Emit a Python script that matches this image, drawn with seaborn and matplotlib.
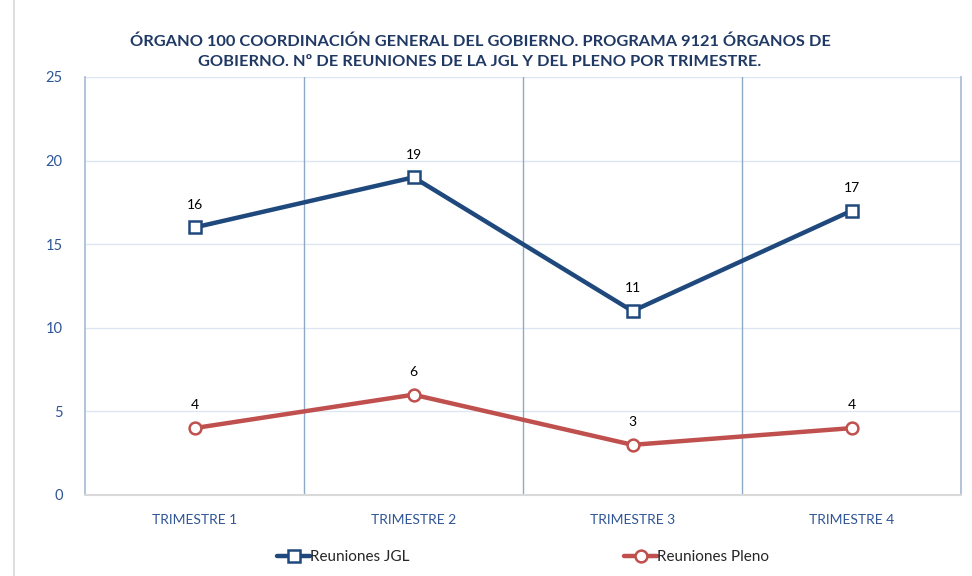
import numpy as np
import pandas as pd
import matplotlib
matplotlib.use("Agg")
import matplotlib.pyplot as plt
import seaborn as sns
from matplotlib.lines import Line2D

# Data
trimestres = ["TRIMESTRE 1", "TRIMESTRE 2", "TRIMESTRE 3", "TRIMESTRE 4"]
reuniones_jgl = [16, 19, 11, 17]
reuniones_pleno = [4, 6, 3, 4]

df_jgl = pd.DataFrame({"Trimestre": trimestres, "Valor": reuniones_jgl})
df_pleno = pd.DataFrame({"Trimestre": trimestres, "Valor": reuniones_pleno})

sns.set_theme(style="white")
plt.rcParams["font.family"] = ["Lato", "DejaVu Sans"]

blue = "#1F497D"
red = "#C0504D"
axis_blue = "#2F5597"

fig = plt.figure(figsize=(9.72, 5.76), dpi=100)
ax = fig.add_axes([85 / 972, 1 - 495 / 576, (961 - 85) / 972, (495 - 77) / 576])

line_kw = dict(linewidth=3.2, markersize=8.5, markerfacecolor="white",
               markeredgewidth=1.8, sort=False, zorder=3)
sns.lineplot(data=df_jgl, x="Trimestre", y="Valor", color=blue, marker="s",
             markeredgecolor=blue, ax=ax, **line_kw)
sns.lineplot(data=df_pleno, x="Trimestre", y="Valor", color=red, marker="o",
             markeredgecolor=red, ax=ax, **line_kw)

# data labels
for serie in [reuniones_jgl, reuniones_pleno]:
    for i, v in enumerate(serie):
        ax.annotate(str(v), (i, v), xytext=(0, 12), textcoords="offset points",
                    ha="center", va="bottom", fontsize=10, color="black")

ax.set_xlim(-0.5, 3.5)
ax.set_ylim(0, 25)
ax.set_yticks([0, 5, 10, 15, 20, 25])
ax.set_xlabel("")
ax.set_ylabel("")

# grid lines
for y in [5, 10, 15, 20, 25]:
    ax.axhline(y, color="#DCE6F2", linewidth=1, zorder=1)
for x in [0.5, 1.5, 2.5]:
    ax.axvline(x, color="#8EA9C8", linewidth=1, zorder=1)

ax.spines["top"].set_visible(False)
ax.spines["left"].set_color("#A9BCD8")
ax.spines["right"].set_color("#A9BCD8")
ax.spines["bottom"].set_color("#D9D9D9")
ax.spines["bottom"].set_linewidth(1.5)

ax.tick_params(axis="both", length=0, colors=axis_blue)
ax.tick_params(axis="x", pad=14, labelsize=10)
ax.tick_params(axis="y", pad=16, labelsize=10.5)

fig.suptitle("ÓRGANO 100 COORDINACIÓN GENERAL DEL GOBIERNO. PROGRAMA 9121 ÓRGANOS DE\n"
             "GOBIERNO. Nº DE REUNIONES DE LA JGL Y DEL PLENO POR TRIMESTRE.",
             x=480 / 972, y=1 - 34 / 576, va="top", fontsize=11.8, fontweight="bold",
             color="#1F3864", linespacing=1.55)

# legend
handles = [
    Line2D([], [], color=blue, linewidth=3.2, marker="s", markersize=8.5,
           markerfacecolor="white", markeredgewidth=1.8),
    Line2D([], [], color=red, linewidth=3.2, marker="o", markersize=8.5,
           markerfacecolor="white", markeredgewidth=1.8),
]
fig.legend(handles, ["Reuniones JGL", "Reuniones Pleno"], loc="center",
           bbox_to_anchor=(523 / 972, 1 - 557 / 576), ncol=2, frameon=False,
           fontsize=11, handlelength=2.2, handletextpad=0.0, columnspacing=14)

# left border of chart area
fig.add_artist(Line2D([14 / 972, 14 / 972], [0, 1], color="#D9D9D9", linewidth=1.2,
                      transform=fig.transFigure))

fig.savefig("out.png", dpi=100)
